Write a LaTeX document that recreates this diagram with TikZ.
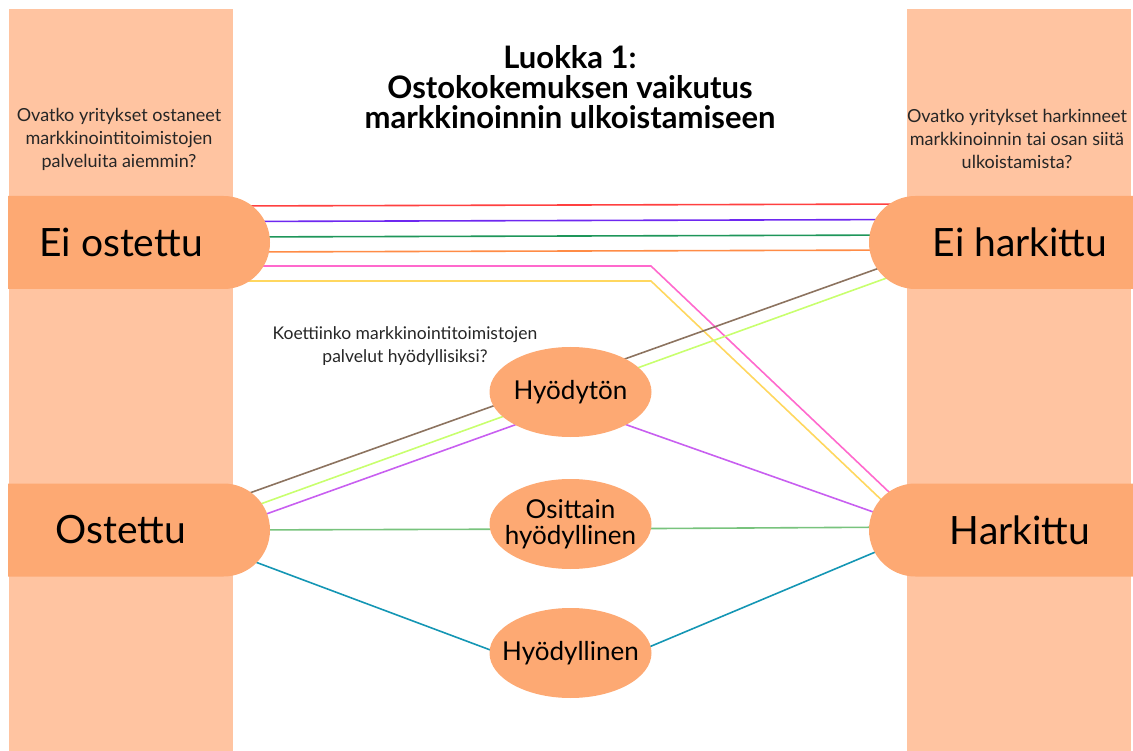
\documentclass[tikz,border=0pt]{standalone}
\usepackage{fontspec}
\setmainfont{Lato}
\usetikzlibrary{shapes.misc,shapes.geometric,calc}
\definecolor{band}{RGB}{255,196,161}
\definecolor{pill}{RGB}{253,169,115}
\definecolor{cred}{RGB}{255,64,64}
\definecolor{cblue}{RGB}{110,40,240}
\definecolor{cgreen}{RGB}{30,150,90}
\definecolor{corange}{RGB}{255,140,70}
\definecolor{cpink}{RGB}{255,105,205}
\definecolor{cyellow}{RGB}{255,215,95}
\definecolor{cbrown}{RGB}{140,115,95}
\definecolor{clime}{RGB}{200,255,110}
\definecolor{cviolet}{RGB}{200,95,240}
\definecolor{cmid}{RGB}{120,195,125}
\definecolor{cteal}{RGB}{20,150,180}
\pgfdeclarelayer{bands}
\pgfdeclarelayer{lines}
\pgfsetlayers{bands,lines,main}

\begin{document}
\begin{tikzpicture}[x=1pt,y=-1pt,
  pillleft/.style={rounded rectangle,rounded rectangle west arc=none,fill=pill,
    minimum width=262pt,minimum height=93pt,inner sep=0pt},
  pillright/.style={rounded rectangle,rounded rectangle east arc=none,fill=pill,
    minimum width=271pt,minimum height=93pt,inner sep=0pt},
  pilltext/.style={font=\fontsize{39}{42}\selectfont},
  answer/.style={ellipse,fill=pill,minimum width=162pt,minimum height=90pt,inner sep=0pt},
  answertext/.style={align=center,font=\fontsize{26}{25.5}\selectfont},
  question/.style={align=center,font=\fontsize{18}{23}\selectfont,text=black!85},
  link/.style={line width=1.6pt}]
\useasboundingbox (0,0) rectangle (1133,751);
\begin{pgfonlayer}{bands}
\fill[band] (9,9) rectangle (233,751);
\fill[band] (907,9) rectangle (1131,751);
\end{pgfonlayer}

\node[align=center,font=\bfseries\fontsize{31}{30}\selectfont] (title) at (570,87)
  {Luokka 1:\\Ostokokemuksen vaikutus\\markkinoinnin ulkoistamiseen};
\node[question] (qleft) at (119,139) {Ovatko yritykset ostaneet\\markkinointitoimistojen\\palveluita aiemmin?};
\node[question] (qright) at (1017,139) {Ovatko yritykset harkinneet\\markkinoinnin tai osan siitä\\ulkoistamista?};
\node[question,font=\fontsize{17.5}{22.5}\selectfont] (qmid) at (405,346) {Koettiinko markkinointitoimistojen\\palvelut hyödyllisiksi?};

\node[pillleft,label={[pilltext,xshift=-18pt]center:Ei ostettu}] (eiost) at (139,242.5) {};
\node[pillleft,label={[pilltext,xshift=-18pt]center:Ostettu}] (ost) at (139,530) {};
\node[pillright,label={[pilltext,xshift=15.5pt]center:Ei harkittu}] (eihark) at (1004.5,242.5) {};
\node[pillright,label={[pilltext,xshift=15.5pt]center:Harkittu}] (hark) at (1004.5,530) {};

\node[answer,label={[answertext]center:Hyödytön}] (hyodyton) at (570.5,392) {};
\node[answer,label={[answertext]center:Osittain\\hyödyllinen}] (osittain) at (570.5,524) {};
\node[answer,label={[answertext]center:Hyödyllinen}] (hyodyllinen) at (570.5,653) {};

\coordinate (pinkbend) at (651,266);
\coordinate (yellowbend) at (651,281);

\begin{pgfonlayer}{lines}
\draw[link,cred] ($(eiost)+(91,-36.5)$) -- ($(eihark)+(-84.5,-38.5)$);
\draw[link,cblue] ($(eiost)+(91,-21)$) -- ($(eihark)+(-84.5,-23)$);
\draw[link,cgreen] ($(eiost)+(91,-5.5)$) -- ($(eihark)+(-84.5,-7.5)$);
\draw[link,corange] ($(eiost)+(91,9.5)$) -- ($(eihark)+(-84.5,7.5)$);
\draw[link,cpink] ($(eiost)+(91,23.5)$) -- (pinkbend) -- ($(hark)+(-84.5,-8.5)$);
\draw[link,cyellow] ($(eiost)+(91,38.5)$) -- (yellowbend) -- ($(hark)+(-84.5,6.5)$);
\draw[link,cbrown] ($(ost)+(91,-30)$) -- ($(eihark)+(-84.5,11)$);
\draw[link,clime] ($(ost)+(91,-15)$) -- ($(eihark)+(-84.5,23.5)$);
\draw[link,cviolet] ($(ost)+(91,-3)$) -- ($(hyodyton)+(0,13)$) -- ($(hark)+(-84.5,-1.5)$);
\draw[link,cmid] ($(ost)+(91,0)$) -- ($(osittain)+(0,5)$) -- ($(hark)+(-84.5,-3)$);
\draw[link,cteal] ($(ost)+(91,22.5)$) -- ($(hyodyllinen)+(0,27)$) -- ($(hark)+(-84.5,3.3)$);
\end{pgfonlayer}
\end{tikzpicture}
\end{document}
